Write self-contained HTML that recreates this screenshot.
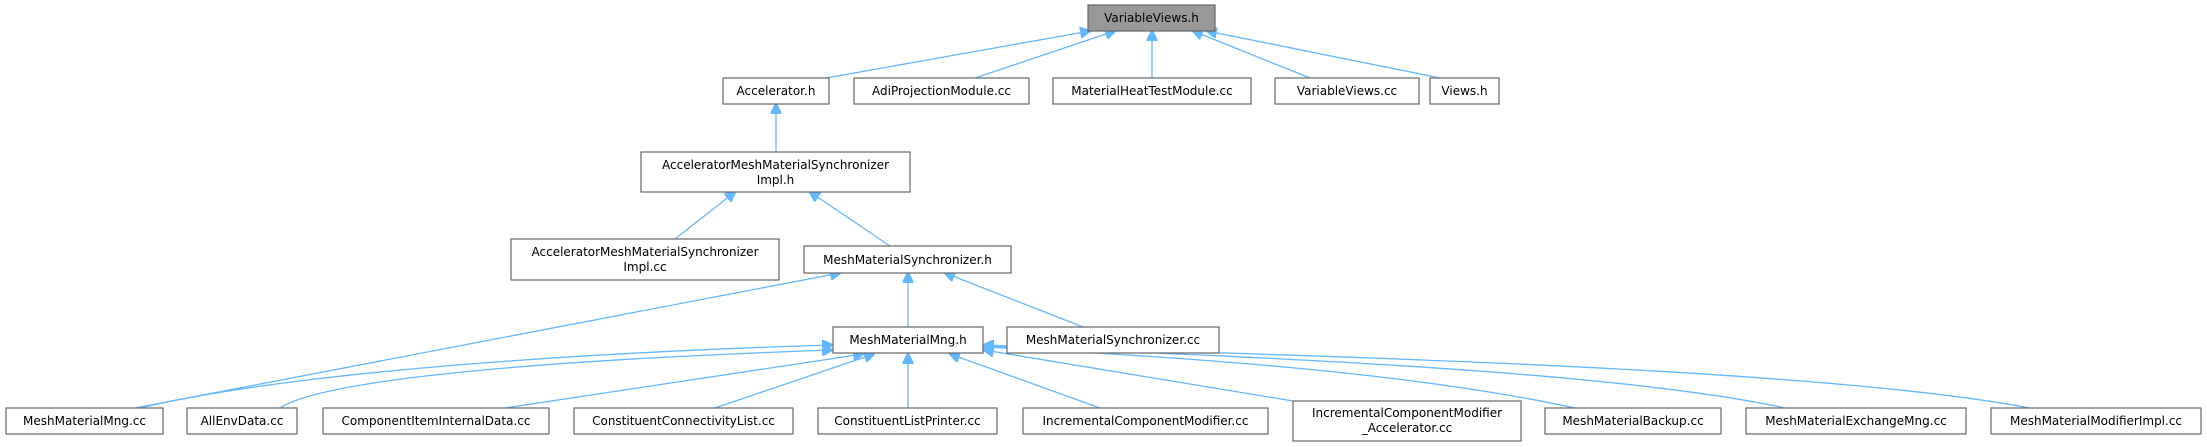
<!DOCTYPE html>
<html><head><meta charset="utf-8"><style>
html,body{margin:0;padding:0;background:#fff;}
svg{display:block;font-family:"DejaVu Sans","Liberation Sans",sans-serif;}
text{font-size:12px;fill:#000;text-anchor:middle;}
rect{fill:#fff;stroke:#666;stroke-width:1.2;}
path{fill:none;stroke:#63b8ff;stroke-width:1.3;}
</style></head><body>
<svg width="2207" height="447" viewBox="0 0 2207 447">
<defs><marker id="a" viewBox="0 0 10 10" refX="9" refY="5" markerWidth="11" markerHeight="11" orient="auto" markerUnits="userSpaceOnUse"><path d="M0,0 L10,5 L0,10 z" style="fill:#63b8ff;stroke:#63b8ff"/></marker></defs>
<!-- edges -->
<path marker-end="url(#a)" d="M826,78 L1090,31"/>
<path marker-end="url(#a)" d="M975,78 L1115,31"/>
<path marker-end="url(#a)" d="M1152,78 L1152,31"/>
<path marker-end="url(#a)" d="M1310,78 L1193,31"/>
<path marker-end="url(#a)" d="M1440,78 L1207,31"/>
<path marker-end="url(#a)" d="M776,152 L776,104"/>
<path marker-end="url(#a)" d="M675,239 L735,192"/>
<path marker-end="url(#a)" d="M890,246 L810,192"/>
<path marker-end="url(#a)" d="M135,408 L840,273"/>
<path marker-end="url(#a)" d="M908,327 L908,273"/>
<path marker-end="url(#a)" d="M1083,327 L945,273"/>
<path marker-end="url(#a)" d="M140,408 C300,370 600,352 832,345"/>
<path marker-end="url(#a)" d="M280,408 C330,375 600,358 832,350"/>
<path marker-end="url(#a)" d="M505,408 L863,354"/>
<path marker-end="url(#a)" d="M715,408 L874,354"/>
<path marker-end="url(#a)" d="M908,408 L908,354"/>
<path marker-end="url(#a)" d="M1100,408 L950,354"/>
<path marker-end="url(#a)" d="M1293,401 L984,350"/>
<path marker-end="url(#a)" d="M1575,408 C1400,370 1150,355 984,347"/>
<path marker-end="url(#a)" d="M1785,408 C1600,368 1200,355 984,346"/>
<path marker-end="url(#a)" d="M2030,408 C1800,365 1250,355 984,345"/>
<!-- nodes -->
<rect x="1088" y="5" width="127" height="26" style="fill:#999"/><text x="1151.5" y="22">VariableViews.h</text>
<rect x="723" y="78" width="106" height="26"/><text x="776" y="95">Accelerator.h</text>
<rect x="854" y="78" width="175" height="26"/><text x="941.5" y="95">AdiProjectionModule.cc</text>
<rect x="1053" y="78" width="198" height="26"/><text x="1152" y="95">MaterialHeatTestModule.cc</text>
<rect x="1275" y="78" width="144" height="26"/><text x="1347" y="95">VariableViews.cc</text>
<rect x="1430" y="78" width="69" height="26"/><text x="1464.5" y="95">Views.h</text>
<rect x="641" y="152" width="269" height="40"/><text x="775.5" y="169">AcceleratorMeshMaterialSynchronizer</text><text x="775.5" y="184">Impl.h</text>
<rect x="511" y="239" width="268" height="41"/><text x="645" y="256">AcceleratorMeshMaterialSynchronizer</text><text x="645" y="271">Impl.cc</text>
<rect x="804" y="246" width="207" height="27"/><text x="907.5" y="264">MeshMaterialSynchronizer.h</text>
<rect x="833" y="327" width="150" height="26"/><text x="908" y="344">MeshMaterialMng.h</text>
<rect x="1007" y="327" width="212" height="26"/><text x="1113" y="344">MeshMaterialSynchronizer.cc</text>
<rect x="6" y="408" width="157" height="26"/><text x="84.5" y="425">MeshMaterialMng.cc</text>
<rect x="187" y="408" width="110" height="26"/><text x="242" y="425">AllEnvData.cc</text>
<rect x="323" y="408" width="226" height="26"/><text x="436" y="425">ComponentItemInternalData.cc</text>
<rect x="574" y="408" width="219" height="26"/><text x="683.5" y="425">ConstituentConnectivityList.cc</text>
<rect x="818" y="408" width="179" height="26"/><text x="907.5" y="425">ConstituentListPrinter.cc</text>
<rect x="1023" y="408" width="245" height="26"/><text x="1145.5" y="425">IncrementalComponentModifier.cc</text>
<rect x="1293" y="401" width="228" height="40"/><text x="1407" y="417">IncrementalComponentModifier</text><text x="1407" y="432">_Accelerator.cc</text>
<rect x="1545" y="408" width="176" height="26"/><text x="1633" y="425">MeshMaterialBackup.cc</text>
<rect x="1746" y="408" width="220" height="26"/><text x="1856" y="425">MeshMaterialExchangeMng.cc</text>
<rect x="1991" y="408" width="210" height="26"/><text x="2096" y="425">MeshMaterialModifierImpl.cc</text>
</svg>
</body></html>
